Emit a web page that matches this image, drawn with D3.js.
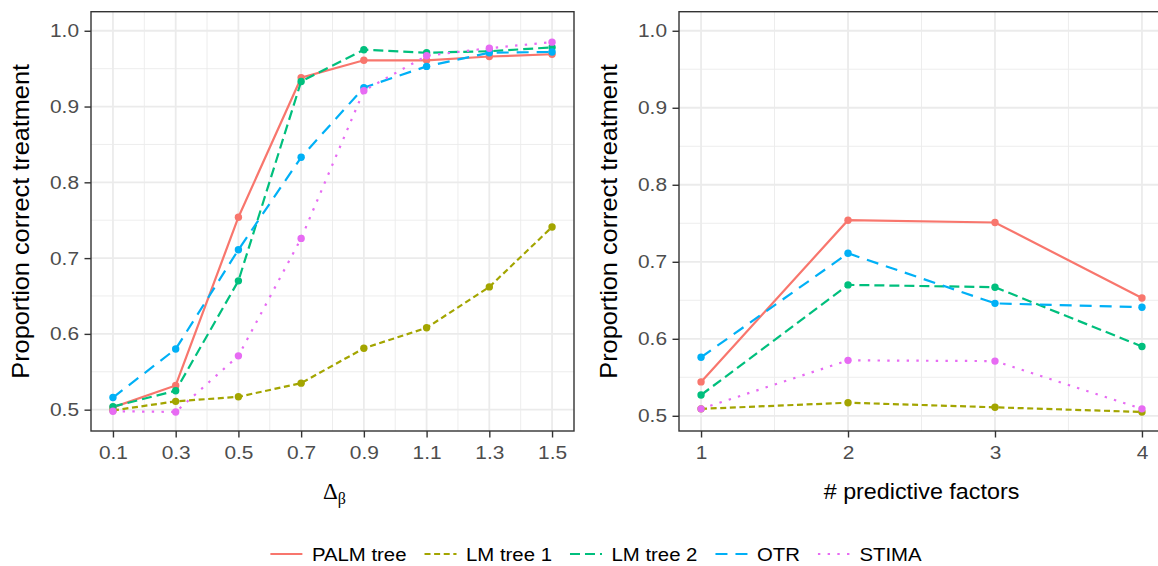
<!DOCTYPE html>
<html><head><meta charset="utf-8">
<script src="https://cdn.jsdelivr.net/npm/d3@7"></script>
<style>
body{margin:0;background:#fff;overflow:hidden;}
text{font-family:"Liberation Sans",Arial,Helvetica,sans-serif;}
</style>
</head><body>
<svg id="chart" width="1158" height="566"></svg>
<script>
// ---------- data ----------
const seriesNames = ["PALM tree", "LM tree 1", "LM tree 2", "OTR", "STIMA"];
const deltaBeta = [0.1, 0.3, 0.5, 0.7, 0.9, 1.1, 1.3, 1.5];
const palmLeft  = [0.503, 0.532, 0.754, 0.938, 0.961, 0.961, 0.966, 0.969];
const lm1Left   = [0.499, 0.511, 0.517, 0.535, 0.581, 0.608, 0.662, 0.741];
const lm2Left   = [0.504, 0.525, 0.670, 0.933, 0.975, 0.971, 0.973, 0.978];
const otrLeft   = [0.516, 0.580, 0.711, 0.833, 0.925, 0.953, 0.971, 0.972];
const stimaLeft = [0.498, 0.497, 0.571, 0.726, 0.921, 0.967, 0.977, 0.985];

const nFactors   = [1, 2, 3, 4];
const palmRight  = [0.544, 0.754, 0.751, 0.653];
const lm1Right   = [0.509, 0.517, 0.511, 0.505];
const lm2Right   = [0.527, 0.670, 0.667, 0.590];
const otrRight   = [0.576, 0.711, 0.646, 0.641];
const stimaRight = [0.509, 0.572, 0.571, 0.509];

const yTickValues = [0.5, 0.6, 0.7, 0.8, 0.9, 1.0];
const yMinorValues = [0.55, 0.65, 0.75, 0.85, 0.95];
const leftXTicks = deltaBeta;
const leftXMinor = [0.2, 0.4, 0.6, 0.8, 1.0, 1.2, 1.4];
const rightXTicks = nFactors;
const rightXMinor = [1.5, 2.5, 3.5];
const yTitle = "Proportion correct treatment";
const rightXTitle = "# predictive factors";

// ---------- styles ----------
const colors = ["#F8766D", "#A3A500", "#00BF7D", "#00B0F6", "#E76BF3"];
const dashes = [null, "6,3.6", "10,5", "12,8", "2.4,7.3"];
const lineW = 2.2, ptR = 3.7;
const gridCol = "#EBEBEB", axisCol = "#333333", tickTextCol = "#4D4D4D";
const sx = 1.1; // horizontal glyph scaling

const svg = d3.select("#chart");
svg.append("rect").attr("width",1158).attr("height",566).attr("fill","#fff");

function drawPanel(cfg){
  const {x0,x1,y0,y1,xs,ys,xTicks,xMinor,fmtX,series} = cfg;
  const g = svg.append("g");
  g.selectAll(".ymin").data(yMinorValues).join("line")
    .attr("x1",x0).attr("x2",x1).attr("y1",d=>ys(d)).attr("y2",d=>ys(d))
    .attr("stroke",gridCol).attr("stroke-width",0.9);
  g.selectAll(".xmin").data(xMinor).join("line")
    .attr("y1",y0).attr("y2",y1).attr("x1",d=>xs(d)).attr("x2",d=>xs(d))
    .attr("stroke",gridCol).attr("stroke-width",0.9);
  g.selectAll(".ymaj").data(yTickValues).join("line")
    .attr("x1",x0).attr("x2",x1).attr("y1",d=>ys(d)).attr("y2",d=>ys(d))
    .attr("stroke",gridCol).attr("stroke-width",1.8);
  g.selectAll(".xmaj").data(xTicks).join("line")
    .attr("y1",y0).attr("y2",y1).attr("x1",d=>xs(d)).attr("x2",d=>xs(d))
    .attr("stroke",gridCol).attr("stroke-width",1.8);

  const line = d3.line().x(d=>xs(d[0])).y(d=>ys(d[1]));
  series.forEach((vals,i)=>{
    const pts = cfg.xVals.map((x,j)=>[x,vals[j]]);
    g.append("path").datum(pts).attr("d",line).attr("fill","none")
      .attr("stroke",colors[i]).attr("stroke-width",lineW)
      .attr("stroke-dasharray",dashes[i]);
  });
  series.forEach((vals,i)=>{
    const pts = cfg.xVals.map((x,j)=>[x,vals[j]]);
    g.selectAll(null).data(pts).join("circle")
      .attr("cx",d=>xs(d[0])).attr("cy",d=>ys(d[1])).attr("r",ptR)
      .attr("fill",colors[i]);
  });

  g.append("rect").attr("x",x0).attr("y",y0).attr("width",x1-x0).attr("height",y1-y0)
    .attr("fill","none").attr("stroke",axisCol).attr("stroke-width",1.4);

  const ax = g.append("g").attr("transform",`translate(0,${y1})`)
    .call(d3.axisBottom(xs).tickValues(xTicks).tickFormat(fmtX).tickSize(6.5).tickPadding(8.5));
  const ay = g.append("g").attr("transform",`translate(${x0},0)`)
    .call(d3.axisLeft(ys).tickValues(yTickValues).tickFormat(d3.format(".1f")).tickSize(6.5).tickPadding(4.4));
  [ax,ay].forEach(a=>{
    a.select(".domain").remove();
    a.selectAll(".tick line").attr("stroke",axisCol).attr("stroke-width",1.4);
    a.selectAll(".tick text").attr("fill",tickTextCol).style("font-size","19px")
      .style("font-family","'Liberation Sans',Arial,sans-serif")
      .attr("transform",`scale(${sx},1)`);
  });

  svg.append("text").attr("text-anchor","middle")
    .attr("transform",`translate(${cfg.yTitleX},${(y0+y1)/2}) rotate(-90) scale(${sx},1)`)
    .style("font-size","23px").attr("fill","#000").text(yTitle);
}

const panelTop = 11.7, panelBottom = 431;

function yDomain(all){
  const lo = d3.min(all), hi = 1.0, pad = (hi-lo)*0.05;
  return [lo-pad, hi+pad];
}
// left panel
{
  const x0 = 91, x1 = 574;
  const xr = d3.extent(deltaBeta), xp = (xr[1]-xr[0])*0.05;
  const xs = d3.scaleLinear().domain([xr[0]-xp, xr[1]+xp]).range([x0,x1]);
  const series = [palmLeft,lm1Left,lm2Left,otrLeft,stimaLeft];
  const ys = d3.scaleLinear().domain(yDomain(series.flat())).range([panelBottom,panelTop]);
  drawPanel({x0,x1,y0:panelTop,y1:panelBottom,xs,ys,xTicks:leftXTicks,xMinor:leftXMinor,
    fmtX:d3.format(".1f"),series,xVals:deltaBeta,yTitleX:29});
  const t = svg.append("text").attr("x",(x0+x1)/2+2).attr("y",499).attr("text-anchor","middle")
    .style("font-family","'Liberation Serif','DejaVu Serif',serif").style("font-size","23px").attr("fill","#000");
  t.append("tspan").text("Δ");
  t.append("tspan").attr("dy",5).style("font-size","16px").text("β");
}
// right panel
{
  const x0 = 679, x1 = 1164;
  const xr = d3.extent(nFactors), xp = (xr[1]-xr[0])*0.05;
  const xs = d3.scaleLinear().domain([xr[0]-xp, xr[1]+xp]).range([x0,x1]);
  const series = [palmRight,lm1Right,lm2Right,otrRight,stimaRight];
  const ys = d3.scaleLinear().domain(yDomain(series.flat())).range([panelBottom,panelTop]);
  drawPanel({x0,x1,y0:panelTop,y1:panelBottom,xs,ys,xTicks:rightXTicks,xMinor:rightXMinor,
    fmtX:d3.format("d"),series,xVals:nFactors,yTitleX:617});
  svg.append("text").attr("text-anchor","middle")
    .attr("transform",`translate(${(x0+x1)/2},499) scale(1.06,1)`)
    .style("font-size","22px").attr("fill","#000").text(rightXTitle);
}

// legend
{
  const keyW = 32, keyGap = 9.5, itemGap = 18, legY = 554, legCenter = 596;
  const lg = svg.append("g");
  const items = seriesNames.map((name,i)=>{
    const t = lg.append("text").style("font-size","18.5px").attr("fill","#000").text(name);
    const w = t.node().getComputedTextLength()*sx;
    return {t,w,i};
  });
  const total = d3.sum(items,d=>keyW+keyGap+d.w) + itemGap*(items.length-1);
  let x = legCenter - total/2;
  items.forEach(d=>{
    lg.append("line").attr("x1",x).attr("x2",x+keyW).attr("y1",legY).attr("y2",legY)
      .attr("stroke",colors[d.i]).attr("stroke-width",lineW).attr("stroke-dasharray",dashes[d.i]);
    d.t.attr("transform",`translate(${x+keyW+keyGap},${legY+7}) scale(${sx},1)`);
    x += keyW+keyGap+d.w+itemGap;
  });
}
</script>
</body></html>
